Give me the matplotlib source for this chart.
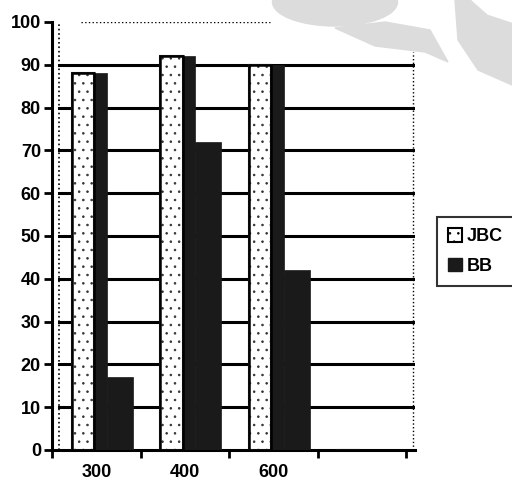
import numpy as np
import matplotlib.pyplot as plt
from matplotlib.patches import Patch, Polygon, Ellipse

plt.rcParams['font.family'] = ['Liberation Sans', 'DejaVu Sans']
plt.rcParams['hatch.linewidth'] = 0.6

categories = ['300', '400', '600', '']
jbc = [88, 92, 90, 0]
bb = [17, 72, 42, 0]
yticks = [0, 10, 20, 30, 40, 50, 60, 70, 80, 90, 100]

fig = plt.figure(figsize=(5.12, 4.83), dpi=100)
ax = fig.add_axes([52 / 512, 1 - 450 / 483, 363 / 512, 428 / 483])

# faint logo watermark behind the plot (figure pixel coords)
grey = '#dcdcdc'
fig.patches.append(Ellipse((335, 483 - 2), 125, 48, transform=None,
                           color=grey, zorder=0))
fig.patches.append(Polygon([(335, 483 - 28), (385, 483 - 22), (430, 483 - 30),
                            (448, 483 - 62), (425, 483 - 52), (375, 483 - 46)],
                           closed=True, transform=None, color=grey, zorder=0))
fig.patches.append(Polygon([(455, 483), (512, 483), (512, 483 - 85),
                            (478, 483 - 70), (458, 483 - 40)],
                           closed=True, transform=None, color=grey, zorder=0))
fig.patches.append(Polygon([(472, 483), (512, 483), (512, 483 - 22),
                            (488, 483 - 14)],
                           closed=True, transform=None, color='white', zorder=0))
ax.set_facecolor('none')

x = np.arange(len(categories))

# horizontal gridlines on the back wall
for v in yticks[1:-1]:
    ax.axhline(v, xmin=0.02, xmax=1, color='black', lw=2.2, zorder=1)
ax.axhline(100, xmin=0.08, xmax=0.6, color='black', lw=1, ls=':', zorder=1)
ax.axvline(-0.42, color='black', lw=1.2, ls=':', zorder=1)
ax.axvline(3.58, ymax=0.93, color='black', lw=1, ls=':', zorder=1)

# JBC front face (stippled), its dark side face, then BB
ax.bar(x - 0.15, jbc, width=0.255, color='white', hatch='..',
       edgecolor='#333333', linewidth=1.5, zorder=3)
ax.bar(x - 0.15, jbc, width=0.255, color='none', edgecolor='black',
       linewidth=1.8, zorder=4)
ax.bar(x + 0.047, jbc, width=0.145, color='#1a1a1a', edgecolor='#1a1a1a',
       linewidth=0.5, zorder=3)
ax.bar(x + 0.265, bb, width=0.29, color='#1a1a1a', edgecolor='#1a1a1a',
       linewidth=0.5, zorder=3)

ax.set_xlim(-0.5, 3.6)
ax.set_ylim(0, 100)
ax.set_yticks(yticks)
ax.set_yticklabels([str(t) for t in yticks], fontsize=13, fontweight='bold')
ax.set_xticks(x[:3])
ax.set_xticklabels(categories[:3], fontsize=13, fontweight='bold')
ax.tick_params(axis='x', which='major', length=0, pad=10)
ax.set_xticks(np.arange(-0.5, 3.6, 1.0), minor=True)
ax.tick_params(axis='x', which='minor', length=6, width=2, direction='out')
ax.tick_params(axis='y', length=6, width=2, direction='out', pad=2)

for s in ['top', 'right']:
    ax.spines[s].set_visible(False)
ax.spines['left'].set_linewidth(2.2)
ax.spines['bottom'].set_linewidth(2.2)

handles = [Patch(facecolor='white', hatch='..', edgecolor='black', lw=1.5),
           Patch(facecolor='#1a1a1a', edgecolor='#1a1a1a')]
leg = fig.legend(handles, ['JBC', 'BB'], loc='upper left',
                 bbox_to_anchor=(437 / 512, 1 - 217 / 483),
                 prop={'size': 13, 'weight': 'bold'}, frameon=True,
                 fancybox=False, handlelength=0.8, handleheight=0.8,
                 handletextpad=0.25, borderpad=0.6, labelspacing=0.7,
                 borderaxespad=0)
leg.get_frame().set_edgecolor('black')
leg.get_frame().set_linewidth(1.5)

fig.savefig('out.png', dpi=100)
